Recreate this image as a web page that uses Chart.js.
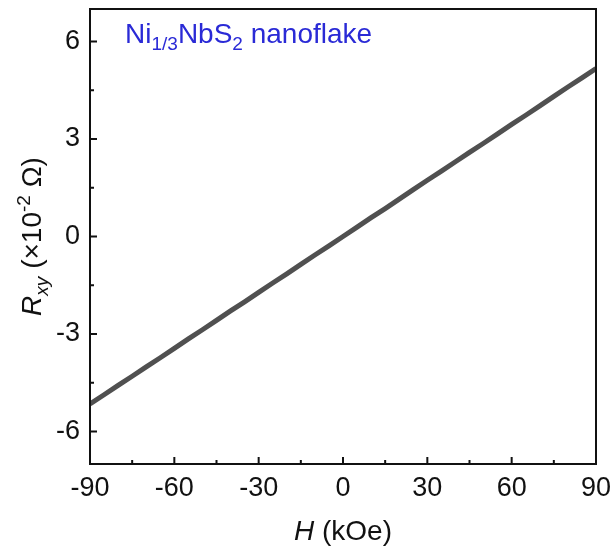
<!DOCTYPE html>
<html>
<head>
<meta charset="utf-8">
<script src="https://cdn.jsdelivr.net/npm/chart.js@4"></script>
<style>
  html, body { margin: 0; padding: 0; background: #fff; }
  #wrap { width: 614px; height: 552px; position: relative; }
</style>
</head>
<body>
<div id="wrap"><canvas id="hall"></canvas></div>
<script>
// field H (kOe) and Hall resistance Rxy (x10^-2 Ohm)
const fieldH = [-90, -85, -80, -75, -70, -65, -60, -55, -50, -45, -40, -35, -30, -25, -20, -15, -10, -5,
                0, 5, 10, 15, 20, 25, 30, 35, 40, 45, 50, 55, 60, 65, 70, 75, 80, 85, 90];
const rxy = [-5.15, -4.87, -4.58, -4.30, -4.01, -3.73, -3.44, -3.15, -2.87, -2.58, -2.29, -2.01, -1.72,
             -1.43, -1.15, -0.86, -0.57, -0.29, 0.00, 0.29, 0.58, 0.86, 1.15, 1.44, 1.73, 2.01, 2.30,
             2.59, 2.87, 3.16, 3.45, 3.73, 4.02, 4.31, 4.60, 4.88, 5.17];
const xTicks = [-90, -60, -30, 0, 30, 60, 90];
const yTicks = [-6, -3, 0, 3, 6];

const FONT = 'Arial, "Liberation Sans", sans-serif';

// draw text made of runs (italic / sub / sup), returns width
function runsWidth(ctx, runs, size) {
  let w = 0;
  runs.forEach(r => {
    const s = r.pos ? size * 0.68 : size;
    ctx.font = (r.it ? 'italic ' : '') + s + 'px ' + FONT;
    w += ctx.measureText(r.t).width;
  });
  return w;
}
function drawRuns(ctx, runs, x, y, size) {
  ctx.textBaseline = 'alphabetic';
  ctx.textAlign = 'left';
  runs.forEach(r => {
    const s = r.pos ? size * 0.68 : size;
    ctx.font = (r.it ? 'italic ' : '') + s + 'px ' + FONT;
    let dy = 0;
    if (r.pos === 'sub') dy = size * 0.25;
    if (r.pos === 'sup') dy = -size * 0.4;
    ctx.fillText(r.t, x, y + dy);
    x += ctx.measureText(r.t).width;
  });
}

const framePlugin = {
  id: 'frame',
  afterDatasetsDraw(chart) {
    const ctx = chart.ctx;
    const a = chart.chartArea;
    const xs = chart.scales.x, ys = chart.scales.y;
    ctx.save();
    ctx.strokeStyle = '#111';
    ctx.lineWidth = 2;
    // inward ticks, major and minor
    ctx.beginPath();
    for (let v = -90; v <= 90; v += 15) {
      const px = xs.getPixelForValue(v);
      const len = (v % 30 === 0) ? 7 : 4;
      ctx.moveTo(px, a.bottom); ctx.lineTo(px, a.bottom - len);
    }
    for (let v = -6; v <= 6; v += 1.5) {
      const py = ys.getPixelForValue(v);
      const len = (v % 3 === 0) ? 7 : 4;
      ctx.moveTo(a.left, py); ctx.lineTo(a.left + len, py);
    }
    ctx.stroke();
    ctx.strokeRect(a.left, a.top, a.right - a.left, a.bottom - a.top);

    // in-plot label
    ctx.fillStyle = '#2a2ad6';
    drawRuns(ctx, [{t: 'Ni'}, {t: '1/3', pos: 'sub'}, {t: 'NbS'}, {t: '2', pos: 'sub'}, {t: ' nanoflake'}],
             a.left + 35, a.top + 34, 28);

    // axis titles
    ctx.fillStyle = '#111';
    const xr = [{t: 'H', it: true}, {t: ' (kOe)'}];
    const xw = runsWidth(ctx, xr, 28);
    drawRuns(ctx, xr, (a.left + a.right) / 2 - xw / 2, 540, 28);

    const yr = [{t: 'R', it: true}, {t: 'xy', it: true, pos: 'sub'}, {t: ' (\u00d710'}, {t: '-2', pos: 'sup'}, {t: ' \u03a9)'}];
    const yw = runsWidth(ctx, yr, 28);
    ctx.translate(41, (a.top + a.bottom) / 2);
    ctx.rotate(-Math.PI / 2);
    drawRuns(ctx, yr, -yw / 2, 0, 28);
    ctx.restore();
  }
};

new Chart(document.getElementById('hall'), {
  type: 'scatter',
  data: {
    datasets: [{
      data: fieldH.map((h, i) => ({x: h, y: rxy[i]})),
      showLine: true,
      borderColor: '#505050',
      borderWidth: 5,
      pointRadius: 0,
      tension: 0
    }]
  },
  options: {
    responsive: true,
    maintainAspectRatio: false,
    animation: false,
    layout: { padding: { top: 9, right: 18, left: 0, bottom: 0 } },
    plugins: { legend: { display: false }, tooltip: { enabled: false } },
    scales: {
      x: {
        type: 'linear', min: -90, max: 90,
        afterBuildTicks: s => { s.ticks = xTicks.map(v => ({value: v})); },
        afterFit: s => { s.height = 88; s.paddingLeft = 0; s.paddingRight = 0; },
        grid: { display: false, drawTicks: false },
        border: { display: false },
        ticks: { padding: 8, color: '#111', font: { family: FONT, size: 27 }, maxRotation: 0 }
      },
      y: {
        type: 'linear', min: -7, max: 7,
        afterBuildTicks: s => { s.ticks = yTicks.map(v => ({value: v})); },
        afterFit: s => { s.width = 90; s.paddingTop = 0; s.paddingBottom = 0; },
        grid: { display: false, drawTicks: false },
        border: { display: false },
        ticks: { padding: 10, color: '#111', font: { family: FONT, size: 27 } }
      }
    }
  },
  plugins: [framePlugin]
});
</script>
</body>
</html>
